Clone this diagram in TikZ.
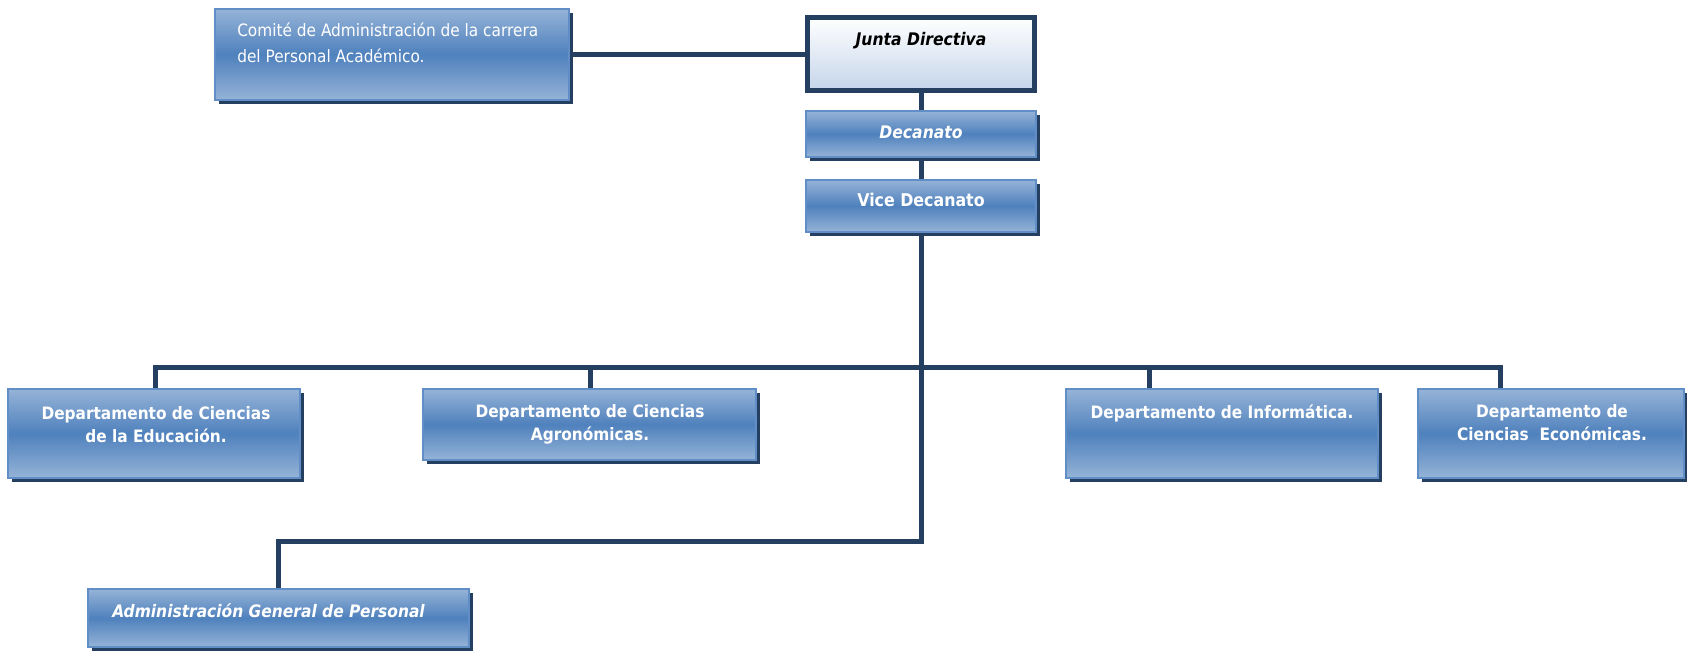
\documentclass[tikz,border=0pt]{standalone}
\usepackage{fontspec}
\setmainfont{DejaVu Sans Condensed}
\usetikzlibrary{fit,shadows}
\definecolor{navy}{RGB}{36,63,96}
\definecolor{boxlight}{RGB}{149,179,215}
\definecolor{boxdark}{RGB}{79,129,189}
\definecolor{boxedge}{RGB}{98,142,200}
\definecolor{juntabot}{RGB}{197,213,234}
\tikzset{
  conn/.style={draw=navy, line width=3.75pt},
  bluebox/.style={draw=boxedge, line width=1.1pt, inner sep=0pt,
    top color=boxlight, bottom color=boxlight, middle color=boxdark,
    drop shadow={shadow xshift=3pt, shadow yshift=-3pt, fill=navy, opacity=1}},
  juntabox/.style={draw=navy, line width=3.75pt, inner sep=0pt,
    top color=white, bottom color=juntabot},
  wtxt/.style={text=white, font=\fontsize{12.8}{17}\selectfont\bfseries, inner sep=0pt, align=center},
  ctxt/.style={text=white, font=\fontsize{12.8}{19.5}\selectfont, inner sep=0pt, align=left},
}
\begin{document}
\begin{tikzpicture}[x=0.75pt, y=-0.75pt]
\useasboundingbox (0,0) rectangle (1687,652);
% boxes
\node[bluebox, fit={(215,9) (569,100)}] (comite) {};
\node[juntabox, fit={(807.5,17.5) (1034.5,90.5)}] (junta) {};
\node[bluebox, fit={(806,111) (1036,157)}] (decanato) {};
\node[bluebox, fit={(806,180) (1036,232)}] (vice) {};
\node[bluebox, fit={(8,389) (300,478)}] (edu) {};
\node[bluebox, fit={(423,389) (756,460)}] (agro) {};
\node[bluebox, fit={(1066,389) (1378,478)}] (info) {};
\node[bluebox, fit={(1418,389) (1684,478)}] (eco) {};
\node[bluebox, fit={(88,589) (469,647)}] (admin) {};
% texts
\node[ctxt, anchor=base west] (tcomite) at (237,63) {Comité de Administración de la carrera\\del Personal Académico.};
\node[wtxt, text=black, font=\fontsize{13}{15}\selectfont\bfseries\itshape, anchor=base] (tjunta) at (921,46) {Junta Directiva};
\node[wtxt, font=\fontsize{13}{15}\selectfont\bfseries\itshape, anchor=base] (tdec) at (921,139) {Decanato};
\node[wtxt, font=\fontsize{13.2}{15}\selectfont\bfseries, anchor=base] (tvice) at (921,207) {Vice Decanato};
\node[wtxt, anchor=base] (tedu) at (156,442) {Departamento de Ciencias\\de la Educación.};
\node[wtxt, anchor=base] (tagro) at (590,440) {Departamento de Ciencias\\Agronómicas.};
\node[wtxt, anchor=base] (tinfo) at (1222,418) {Departamento de Informática.};
\node[wtxt, anchor=base] (teco) at (1552,440) {Departamento de\\Ciencias\ \ Económicas.};
\node[wtxt, font=\fontsize{12.9}{17}\selectfont\bfseries\itshape, anchor=base west] (tadmin) at (112,617) {Administración General de Personal};
% connectors
\coordinate (busl) at (155,367);
\coordinate (s2) at (590,367);
\coordinate (s3) at (1149,367);
\coordinate (busr) at (1500,367);
\coordinate (turny) at (0,541);
\draw[conn] (comite.east) -- (comite.east -| junta.west);
\draw[conn] (junta.south) -- (decanato.north);
\draw[conn] (decanato.south) -- (vice.north);
\draw[conn] (edu.north -| busl) -- (busl) -- (busr) -- (busr |- eco.north);
\draw[conn] (s2) -- (s2 |- agro.north);
\draw[conn] (s3) -- (s3 |- info.north);
\draw[conn] (vice.south) -- (vice.south |- turny) -| (admin.north);
\end{tikzpicture}
\end{document}
